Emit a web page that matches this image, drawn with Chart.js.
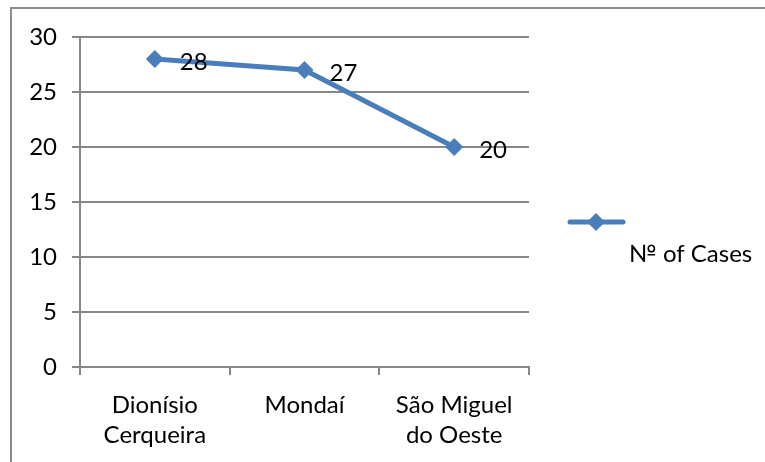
<!DOCTYPE html>
<html>
<head>
<meta charset="utf-8">
<script src="https://cdn.jsdelivr.net/npm/chart.js@4"></script>
<style>
  body { margin: 0; background: #fff; }
</style>
</head>
<body>
<canvas id="cases" width="765" height="462"></canvas>
<script>
const towns = [["Dionísio", "Cerqueira"], ["Mondaí"], ["São Miguel", "do Oeste"]];
const caseCounts = [28, 27, 20];
const seriesName = "№ of Cases";

const fontFamily = "Lato, 'Noto Sans', sans-serif";
const blue = "#4a7ebb";
const grey = "#868686";

// frame + value labels + legend, drawn like the Excel original
const extras = {
  id: "extras",
  beforeDraw: (chart) => {
    const ctx = chart.ctx;
    ctx.save();
    ctx.strokeStyle = "#8c8c8c";
    ctx.lineWidth = 2;
    ctx.beginPath();
    ctx.moveTo(11, 462);
    ctx.lineTo(11, 8);
    ctx.lineTo(765, 8);
    ctx.stroke();
    ctx.restore();
  },
  afterDatasetsDraw: (chart) => {
    const ctx = chart.ctx;
    const meta = chart.getDatasetMeta(0);
    ctx.save();
    ctx.font = "24px " + fontFamily;
    ctx.fillStyle = "#000";
    ctx.textAlign = "left";
    ctx.textBaseline = "middle";
    meta.data.forEach((pt, i) => {
      ctx.fillText(String(caseCounts[i]), pt.x + 25, pt.y + 3);
    });

    // legend
    ctx.strokeStyle = blue;
    ctx.lineWidth = 5;
    ctx.lineCap = "round";
    ctx.beginPath();
    ctx.moveTo(570, 222);
    ctx.lineTo(623, 222);
    ctx.stroke();
    ctx.fillStyle = blue;
    ctx.beginPath();
    ctx.moveTo(596, 213);
    ctx.lineTo(605, 222);
    ctx.lineTo(596, 231);
    ctx.lineTo(587, 222);
    ctx.closePath();
    ctx.fill();
    ctx.fillStyle = "#000";
    ctx.fillText(seriesName, 629, 254);
    ctx.restore();
  },
};

new Chart(document.getElementById("cases").getContext("2d"), {
  type: "line",
  data: {
    labels: towns,
    datasets: [
      {
        label: seriesName,
        data: caseCounts,
        borderColor: blue,
        backgroundColor: blue,
        borderWidth: 5,
        pointStyle: "rectRot",
        pointRadius: 9,
        pointBorderWidth: 0,
        fill: false,
        tension: 0,
      },
    ],
  },
  options: {
    responsive: false,
    animation: false,
    layout: { padding: { top: 37, right: 236, left: 0, bottom: 0 } },
    plugins: {
      legend: { display: false },
      tooltip: { enabled: false },
    },
    scales: {
      x: {
        offset: true,
        grid: {
          offset: true,
          drawOnChartArea: false,
          drawTicks: true,
          tickLength: 8,
          color: grey,
          lineWidth: 2,
        },
        border: { color: grey, width: 2 },
        ticks: {
          color: "#000",
          padding: 15,
          maxRotation: 0,
          autoSkip: false,
          font: { family: fontFamily, size: 24, lineHeight: 1.25 },
        },
        afterFit: (scale) => {
          scale.height = 95;
        },
      },
      y: {
        min: 0,
        max: 30,
        grid: { color: grey, lineWidth: 2, tickLength: 8 },
        border: { color: grey, width: 2 },
        ticks: {
          stepSize: 5,
          color: "#000",
          padding: 15,
          font: { family: fontFamily, size: 24 },
        },
        afterFit: (scale) => {
          scale.width = 80;
        },
      },
    },
  },
  plugins: [extras],
});
</script>
</body>
</html>
